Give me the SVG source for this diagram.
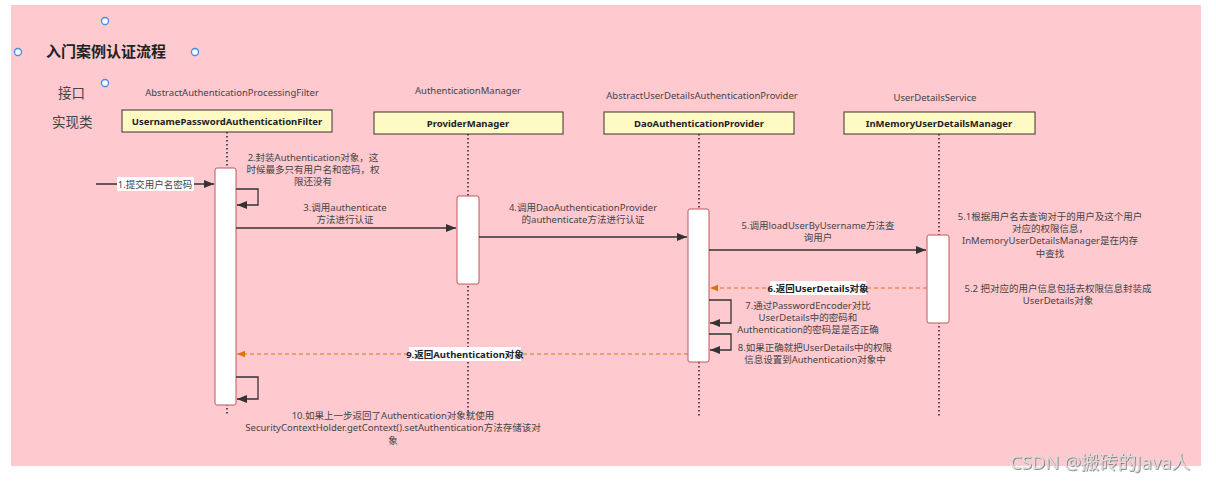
<svg xmlns="http://www.w3.org/2000/svg" width="1216" height="482" viewBox="0 0 1216 482">
<defs>
<marker id="ah" viewBox="0 0 10 10" refX="10" refY="5" markerWidth="10" markerHeight="10" markerUnits="userSpaceOnUse" orient="auto"><path d="M0,1 L10,5 L0,9 Z" fill="#333"/></marker>
<marker id="ao" viewBox="0 0 10 10" refX="10" refY="5" markerWidth="8" markerHeight="8" markerUnits="userSpaceOnUse" orient="auto"><path d="M0,1 L10,5 L0,9 Z" fill="#E07010"/></marker>
<filter id="sh" x="-5%" y="-20%" width="110%" height="140%"><feDropShadow dx="0.8" dy="0.8" stdDeviation="0.5" flood-color="#666" flood-opacity="0.9"/></filter>
</defs>
<style>
text{font-family:"Noto Sans","Noto Sans CJK SC",sans-serif;fill:#444;font-size:9.5px}
.c{text-anchor:middle}
.b{font-weight:bold;fill:#222}
.cls{fill:#FFF9C4;stroke:#333;stroke-width:1}
.act{fill:#fff;stroke:#C0585A;stroke-width:1}
.life{stroke:#222;stroke-width:1.5;stroke-dasharray:1.5 2.5;fill:none}
.msg{stroke:#333;stroke-width:1.3;fill:none}
.ret{stroke:#E07010;stroke-width:1;stroke-dasharray:4 3;fill:none}
.h{fill:#fff;stroke:#3D8BF0;stroke-width:1.3}
</style>
<rect x="0" y="0" width="1216" height="482" fill="#fff"/>
<rect x="11" y="5" width="1190" height="461" fill="#FFC9D0"/>

<g id="title">
<text x="46" y="57" style="font-size:15px" class="b">入门案例认证流程</text>
<circle class="h" cx="105" cy="21" r="3.5"/><circle class="h" cx="18" cy="52" r="3.5"/><circle class="h" cx="195" cy="52" r="3.5"/><circle class="h" cx="105" cy="83" r="3.5"/>
</g>
<g id="row-labels">
<text x="58" y="98" style="font-size:13.5px">接口</text>
<text x="52" y="127" style="font-size:13.5px">实现类</text>
</g>

<g id="lifelines">
<line class="life" x1="227" y1="132" x2="227" y2="416"/>
<line class="life" x1="468" y1="134" x2="468" y2="416"/>
<line class="life" x1="699" y1="134" x2="699" y2="416"/>
<line class="life" x1="939" y1="134" x2="939" y2="416"/>
</g>

<g id="filter">
<text class="c" x="232" y="96">AbstractAuthenticationProcessingFilter</text>
<rect class="cls" x="122" y="110" width="210" height="22"/>
<text class="c b" x="227" y="125">UsernamePasswordAuthenticationFilter</text>
<rect class="act" x="215" y="168" width="21" height="237" rx="2"/>
</g>
<g id="manager">
<text class="c" x="468" y="94">AuthenticationManager</text>
<rect class="cls" x="374" y="112" width="189" height="22"/>
<text class="c b" x="468" y="127">ProviderManager</text>
<rect class="act" x="457" y="196" width="22" height="88" rx="2"/>
</g>
<g id="provider">
<text class="c" x="702" y="99">AbstractUserDetailsAuthenticationProvider</text>
<rect class="cls" x="604" y="112" width="190" height="22"/>
<text class="c b" x="699" y="127">DaoAuthenticationProvider</text>
<rect class="act" x="688" y="209" width="21" height="153" rx="2"/>
</g>
<g id="service">
<text class="c" x="935" y="101">UserDetailsService</text>
<rect class="cls" x="844" y="112" width="191" height="22"/>
<text class="c b" x="939" y="127">InMemoryUserDetailsManager</text>
<rect class="act" x="927" y="235" width="22" height="88" rx="2"/>
</g>

<g id="connectors">
<line class="msg" x1="96" y1="184" x2="214" y2="184" marker-end="url(#ah)"/>
<rect x="117" y="177" width="77" height="14" fill="#fff"/>
<text class="c" x="155" y="188">1.提交用户名密码</text>

<path class="msg" d="M236,189 H258 V205 H237" marker-end="url(#ah)"/>
<text class="c" x="313" y="161">2.封装Authentication对象，这</text>
<text class="c" x="313" y="173">时候最多只有用户名和密码，权</text>
<text class="c" x="313" y="185">限还没有</text>

<line class="msg" x1="236" y1="228" x2="456" y2="228" marker-end="url(#ah)"/>
<text class="c" x="345" y="211">3.调用authenticate</text>
<text class="c" x="345" y="223">方法进行认证</text>

<line class="msg" x1="479" y1="237" x2="687" y2="237" marker-end="url(#ah)"/>
<text class="c" x="583" y="211">4.调用DaoAuthenticationProvider</text>
<text class="c" x="583" y="223">的authenticate方法进行认证</text>

<line class="msg" x1="709" y1="250" x2="926" y2="250" marker-end="url(#ah)"/>
<text class="c" x="818" y="229">5.调用loadUserByUsername方法查</text>
<text class="c" x="818" y="241">询用户</text>

<text class="c" x="1050" y="220">5.1根据用户名去查询对于的用户及这个用户</text>
<text class="c" x="1050" y="232">对应的权限信息，</text>
<text class="c" x="1050" y="244">InMemoryUserDetailsManager是在内存</text>
<text class="c" x="1050" y="257">中查找</text>

<text class="c" x="1058" y="292">5.2 把对应的用户信息包括去权限信息封装成</text>
<text class="c" x="1058" y="304">UserDetails对象</text>

<line class="ret" x1="927" y1="288" x2="710" y2="288" marker-end="url(#ao)"/>
<rect x="770" y="281" width="96" height="14" fill="#fff"/>
<text class="c b" x="818" y="292">6.返回UserDetails对象</text>

<path class="msg" d="M709,300 H731 V323 H710" marker-end="url(#ah)"/>
<text class="c" x="808" y="309">7.通过PasswordEncoder对比</text>
<text class="c" x="808" y="321">UserDetails中的密码和</text>
<text class="c" x="808" y="333">Authentication的密码是是否正确</text>

<path class="msg" d="M709,334 H731 V350 H710" marker-end="url(#ah)"/>
<text class="c" x="815" y="351">8.如果正确就把UserDetails中的权限</text>
<text class="c" x="815" y="363">信息设置到Authentication对象中</text>

<line class="ret" x1="688" y1="354" x2="237" y2="354" marker-end="url(#ao)"/>
<rect x="409" y="347" width="112" height="14" fill="#fff"/>
<text class="c b" x="465" y="358">9.返回Authentication对象</text>

<path class="msg" d="M236,377 H258 V399 H237" marker-end="url(#ah)"/>
<text class="c" x="393" y="419">10.如果上一步返回了Authentication对象就使用</text>
<text class="c" x="393" y="431">SecurityContextHolder.getContext().setAuthentication方法存储该对</text>
<text class="c" x="393" y="444">象</text>
</g>

<text id="watermark" x="1010" y="469" style="font-size:18.5px;fill:#ddd" filter="url(#sh)">CSDN @搬砖的Java人</text>
</svg>
